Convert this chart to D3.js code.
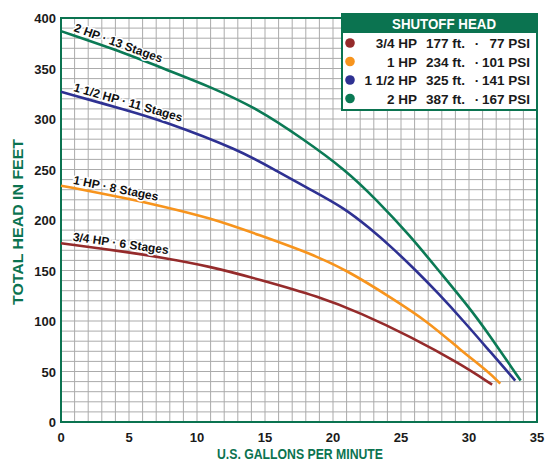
<!DOCTYPE html>
<html lang="en">
<head>
  <meta charset="UTF-8">
  <title>Pump performance</title>
  <style>
    body { margin: 0; background: #fff; }
    svg { font-family: "Liberation Sans", Arial, sans-serif; font-weight: bold; }
    .grid line { stroke: #ababab; stroke-width: 1; }
    .tick-label { font-size: 13px; fill: #1a1a1a; }
    .curve { fill: none; stroke-width: 2.6px; }
    .curve-label { font-size: 12px; fill: #111; stroke: #fff; stroke-width: 3px; paint-order: stroke; }
    .title { fill: #0b7350; font-size: 14px; }
    .legend text { font-size: 13.5px; fill: #1a1a1a; }
  </style>
</head>
<body>
<script src="https://cdn.jsdelivr.net/npm/d3@7"></script>
<script>
  // pump curves (gpm, feet)
  const hp34Flow = [0, 5, 7.3, 11, 14.6, 19, 22, 25.7, 29.3, 31.7];
  const hp34Head = [177, 168, 163, 154, 141, 124, 108, 84.5, 58, 37];

  const hp1Flow = [0, 5, 7.3, 11, 14.6, 18.3, 21, 24.4, 27, 29.3, 31.4, 32.3];
  const hp1Head = [234, 221, 214, 202, 185, 167, 150.5, 122, 99, 72, 50, 38];

  const hp15Flow = [0, 5, 7.3, 13.2, 15.9, 18.5, 20.8, 22.7, 24.4, 26.1, 27.7, 29.6, 31.4, 33.4];
  const hp15Head = [327, 308, 299, 269, 248, 229, 212, 192, 172, 150, 128, 100, 72, 41];

  const hp2Flow = [0, 5, 7.3, 11, 14.6, 17.6, 20.9, 23.2, 25.7, 27.7, 30.1, 31.4, 33.8];
  const hp2Head = [387, 364, 351, 332, 309, 282, 250, 220, 184, 151, 112, 88, 41];

  const curveLabels = ["3/4 HP · 6 Stages", "1 HP · 8 Stages", "1 1/2 HP · 11 Stages", "2 HP · 13 Stages"];
  const colors = ["#952b2b", "#f7941d", "#2e3192", "#0b7a55"];

  // shutoff head legend
  const hpNames = ["3/4 HP", "1 HP", "1 1/2 HP", "2 HP"];
  const shutoffFt = ["177 ft.", "234 ft.", "325 ft.", "387 ft."];
  const shutoffPsi = ["77 PSI", "101 PSI", "141 PSI", "167 PSI"];

  const xTicks = [0, 5, 10, 15, 20, 25, 30, 35];
  const yTicks = [0, 50, 100, 150, 200, 250, 300, 350, 400];

  const width = 545, height = 462;
  const green = "#0b7350";

  const x = d3.scaleLinear().domain([0, 35]).range([61, 537]);
  const y = d3.scaleLinear().domain([0, 400]).range([422, 18]);

  const svg = d3.select("body").append("svg").attr("width", width).attr("height", height);

  // grid
  const grid = svg.append("g").attr("class", "grid");
  grid.selectAll(".v").data(d3.range(1, 35)).enter().append("line")
    .attr("x1", d => x(d)).attr("x2", d => x(d)).attr("y1", y(0)).attr("y2", y(400));
  grid.selectAll(".h").data(d3.range(10, 400, 10)).enter().append("line")
    .attr("y1", d => y(d)).attr("y2", d => y(d)).attr("x1", x(0)).attr("x2", x(35));

  // frame
  svg.append("rect")
    .attr("x", x(0)).attr("y", y(400))
    .attr("width", x(35) - x(0)).attr("height", y(0) - y(400))
    .attr("fill", "none").attr("stroke", green).attr("stroke-width", 2);

  // tick labels
  svg.selectAll(".xt").data(xTicks).enter().append("text")
    .attr("class", "tick-label").attr("text-anchor", "middle")
    .attr("x", d => x(d)).attr("y", 442).text(d => d);
  svg.selectAll(".yt").data(yTicks).enter().append("text")
    .attr("class", "tick-label").attr("text-anchor", "end")
    .attr("x", 56).attr("y", d => y(d) + 5).text(d => d);

  // axis titles
  svg.append("text").attr("class", "title").attr("text-anchor", "middle")
    .attr("x", 300).attr("y", 459)
    .attr("textLength", 166).attr("lengthAdjust", "spacingAndGlyphs")
    .text("U.S. GALLONS PER MINUTE");
  svg.append("text").attr("class", "title").attr("text-anchor", "middle")
    .attr("transform", "translate(23,222) rotate(-90)")
    .attr("textLength", 166).attr("lengthAdjust", "spacingAndGlyphs")
    .text("TOTAL HEAD IN FEET");

  // curves
  const series = [
    {flow: hp34Flow, head: hp34Head},
    {flow: hp1Flow, head: hp1Head},
    {flow: hp15Flow, head: hp15Head},
    {flow: hp2Flow, head: hp2Head}
  ].map((s, i) => ({
    points: s.flow.map((f, j) => [f, s.head[j]]),
    color: colors[i],
    label: curveLabels[i]
  }));

  const line = d3.line().x(d => x(d[0])).y(d => y(d[1])).curve(d3.curveBasis);

  svg.append("g").selectAll("path").data(series).enter().append("path")
    .attr("class", "curve").attr("stroke", d => d.color).attr("d", d => line(d.points));

  // labels laid along the start of each curve
  function headAt(points, f) {
    for (let j = 1; j < points.length; j++) {
      if (f <= points[j][0]) {
        const t = (f - points[j - 1][0]) / (points[j][0] - points[j - 1][0]);
        return points[j - 1][1] + t * (points[j][1] - points[j - 1][1]);
      }
    }
    return points[points.length - 1][1];
  }

  svg.append("g").selectAll("text").data(series).enter().append("text")
    .attr("class", "curve-label")
    .attr("transform", d => {
      const f0 = 0.8, f1 = 6.5;
      const px0 = x(f0), py0 = y(headAt(d.points, f0));
      const px1 = x(f1), py1 = y(headAt(d.points, f1));
      const ang = Math.atan2(py1 - py0, px1 - px0) * 180 / Math.PI;
      return `translate(${px0},${py0}) rotate(${ang}) translate(0,-4)`;
    })
    .text(d => d.label);

  // legend
  const lg = svg.append("g").attr("class", "legend");
  lg.append("rect").attr("x", 342).attr("y", 14).attr("width", 195).attr("height", 96)
    .attr("fill", "#fff").attr("stroke", green).attr("stroke-width", 2);
  lg.append("rect").attr("x", 342).attr("y", 14).attr("width", 195).attr("height", 19)
    .attr("fill", green);
  lg.append("text").attr("x", 444).attr("y", 29).attr("text-anchor", "middle")
    .style("fill", "#fff").style("font-size", "15px")
    .attr("textLength", 104).attr("lengthAdjust", "spacingAndGlyphs")
    .text("SHUTOFF HEAD");

  const rows = lg.selectAll(".row").data(hpNames).enter().append("g")
    .attr("transform", (d, i) => `translate(0,${48 + i * 18.5})`);
  rows.append("circle").attr("cx", 350).attr("cy", -5).attr("r", 4.8)
    .attr("fill", (d, i) => colors[i]);
  rows.append("text").attr("x", 417).attr("text-anchor", "end").text(d => d);
  rows.append("text").attr("x", 426).text((d, i) => shutoffFt[i]);
  rows.append("text").attr("x", 477).attr("text-anchor", "middle").text("·");
  rows.append("text").attr("x", 530).attr("text-anchor", "end").text((d, i) => shutoffPsi[i]);
</script>
</body>
</html>
